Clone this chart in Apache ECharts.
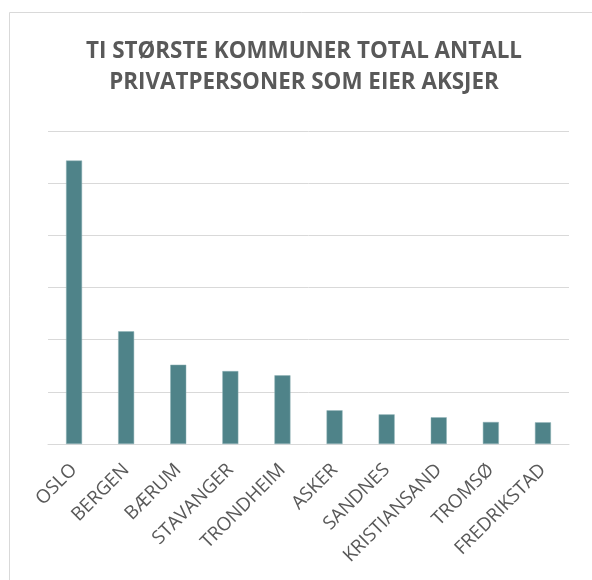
<!DOCTYPE html>
<html>
<head>
<meta charset="utf-8">
<script src="https://cdn.jsdelivr.net/npm/echarts@6/dist/echarts.min.js"></script>
<style>
html,body{margin:0;padding:0;background:#fff;}
#chart{width:592px;height:580px;}
</style>
</head>
<body>
<div id="chart"></div>
<script>
const titleText = "TI STØRSTE KOMMUNER TOTAL ANTALL\nPRIVATPERSONER SOM EIER AKSJER";
const categories = ["OSLO","BERGEN","BÆRUM","STAVANGER","TRONDHEIM","ASKER","SANDNES","KRISTIANSAND","TROMSØ","FREDRIKSTAD"];
const values = [271700, 108000, 76000, 69900, 65800, 32300, 28400, 25600, 21100, 20800];
const yMin = 0;
const yMax = 300000;
const yInterval = 50000;

const chart = echarts.init(document.getElementById('chart'), null, {renderer:'canvas'});
chart.setOption({
  animation: false,
  backgroundColor: '#ffffff',
  graphic: [{
    type: 'rect',
    shape: {x: 9.5, y: 12.5, width: 700, height: 700},
    style: {fill: 'none', stroke: '#d9d9d9', lineWidth: 1},
    silent: true, z: -1
  }],
  title: {
    text: titleText,
    left: 299,
    top: 31,
    textAlign: 'center',
    textStyle: {
      fontFamily: 'Open Sans',
      fontWeight: 'bold',
      fontSize: 22.4,
      lineHeight: 31,
      color: '#595959'
    }
  },
  grid: {left: 48, right: 23, top: 131, bottom: 136, containLabel: false},
  xAxis: {
    type: 'category',
    data: categories,
    axisLine: {show: true, lineStyle: {color: '#d9d9d9', width: 1}},
    axisTick: {show: false},
    axisLabel: {
      rotate: 45,
      interval: 0,
      margin: 23,
      fontFamily: 'Open Sans',
      fontSize: 18.8,
      color: '#595959'
    }
  },
  yAxis: {
    type: 'value',
    min: yMin,
    max: yMax,
    interval: yInterval,
    axisLabel: {show: false},
    axisLine: {show: false},
    axisTick: {show: false},
    splitLine: {show: true, lineStyle: {color: '#d9d9d9', width: 1}}
  },
  series: [{
    type: 'bar',
    data: values,
    barWidth: 16,
    itemStyle: {color: '#4f8389', borderColor: '#8fb3b6', borderWidth: 0.5}
  }]
});
</script>
</body>
</html>
